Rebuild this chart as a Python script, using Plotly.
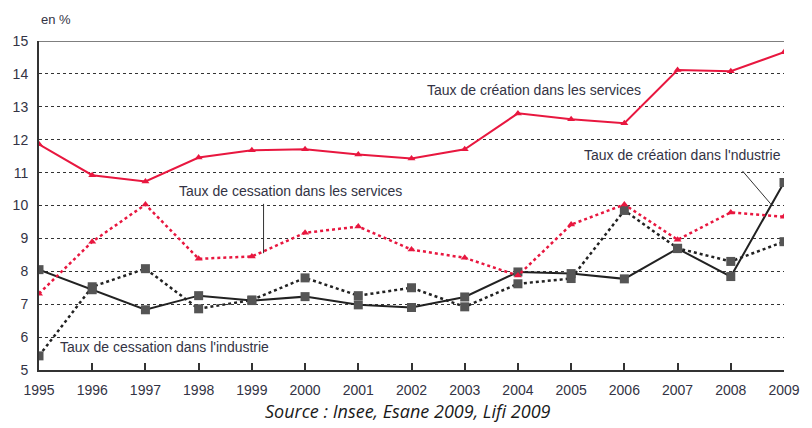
import plotly.graph_objects as go

years = list(range(1995, 2010))
creation_services = [11.86, 10.92, 10.73, 11.46, 11.68, 11.71, 11.55, 11.43, 11.71, 12.80, 12.62, 12.50, 14.12, 14.08, 14.66]
cessation_services = [7.32, 8.90, 10.03, 8.38, 8.45, 9.17, 9.36, 8.66, 8.41, 7.87, 9.42, 10.03, 8.96, 9.79, 9.66]
creation_industrie = [8.05, 7.44, 6.83, 7.26, 7.11, 7.23, 6.98, 6.90, 7.22, 7.98, 7.93, 7.77, 8.69, 7.84, 10.70]
cessation_industrie = [5.43, 7.53, 8.08, 6.86, 7.13, 7.80, 7.26, 7.50, 6.92, 7.62, 7.78, 9.85, 8.70, 8.30, 8.90]
y_ticks = [5, 6, 7, 8, 9, 10, 11, 12, 13, 14, 15]

RED = "#e8173f"
DARK = "#222222"
SQ = "#555555"

fig = go.Figure()
fig.add_trace(go.Scatter(x=years, y=cessation_industrie, mode="lines+markers",
                         line=dict(color=DARK, width=2.5, dash="dot"),
                         marker=dict(symbol="square", size=9, color=SQ)))
fig.add_trace(go.Scatter(x=years, y=creation_industrie, mode="lines+markers",
                         line=dict(color=DARK, width=2),
                         marker=dict(symbol="square", size=9, color=SQ)))
fig.add_trace(go.Scatter(x=years, y=cessation_services, mode="lines+markers",
                         line=dict(color=RED, width=2.5, dash="dot"),
                         marker=dict(symbol="triangle-up", size=7, color=RED)))
fig.add_trace(go.Scatter(x=years, y=creation_services, mode="lines+markers",
                         line=dict(color=RED, width=2),
                         marker=dict(symbol="triangle-up", size=7, color=RED)))

FONT = "Liberation Sans Narrow, Arial Narrow, Liberation Sans, Arial, sans-serif"
tickfont = dict(family=FONT, size=14, color="#333344")
fig.update_xaxes(range=[1995, 2009], tickvals=years, ticktext=[str(y) for y in years],
                 showgrid=False, zeroline=False, showline=True, linecolor="#333333", linewidth=2,
                 ticks="inside", ticklen=7, tickwidth=2, tickcolor="#333333", tickfont=tickfont,
                 ticklabelstandoff=6)
fig.update_yaxes(range=[5, 15], tickvals=y_ticks, showgrid=True, gridcolor="#333333", gridwidth=1,
                 griddash="dot", zeroline=False, showline=True, linecolor="#333333", linewidth=2,
                 ticks="", tickfont=tickfont, ticklabelstandoff=6)

fig.add_shape(type="line", xref="paper", yref="y", x0=0, x1=1, y0=15, y1=15,
              line=dict(color="#555555", width=1.5))

annfont = dict(family=FONT, size=14, color="#333344")
fig.add_annotation(x=2002.26, y=13.5, text="Taux de création dans les services", showarrow=False,
                   xanchor="left", yanchor="middle", font=annfont)
fig.add_annotation(x=1997.6, y=10.45, text="Taux de cessation dans les services", showarrow=False,
                   xanchor="left", yanchor="middle", font=annfont)
fig.add_annotation(x=2005.2, y=11.55, text="Taux de création dans l'ndustrie", showarrow=False,
                   xanchor="left", yanchor="middle", font=annfont)
fig.add_annotation(x=1995.35, y=5.7, text="Taux de cessation dans l'industrie", showarrow=False,
                   xanchor="left", yanchor="middle", font=annfont)
fig.add_annotation(xref="paper", yref="paper", x=0, y=1.035, text="en %", showarrow=False,
                   xanchor="left", yanchor="bottom", font=dict(family=FONT, size=13, color="#333344"))

# leader lines
fig.add_shape(type="line", x0=1999.22, x1=1999.22, y0=10.05, y1=8.55,
              line=dict(color="#333333", width=1))
fig.add_shape(type="line", x0=2008.22, x1=2008.75, y0=11.05, y1=10.05,
              line=dict(color="#333333", width=1))

fig.add_annotation(xref="paper", yref="paper", x=0.495, y=-0.125, text="<i>Source : Insee, Esane 2009, Lifi 2009</i>",
                   showarrow=False, xanchor="center", yanchor="middle",
                   font=dict(family="Open Sans, sans-serif", size=18, color="#1a1a1a"))

fig.update_layout(width=812, height=428, margin=dict(l=39, r=17, t=41, b=58),
                  plot_bgcolor="white", paper_bgcolor="white", showlegend=False)

fig.write_html("out.html", config={"displayModeBar": False},
               post_script="document.body.style.margin='0';")
